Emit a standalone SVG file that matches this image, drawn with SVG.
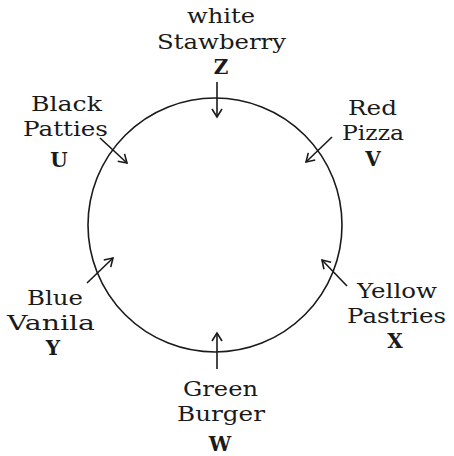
<svg xmlns="http://www.w3.org/2000/svg" width="454" height="456" viewBox="0 0 454 456">
<style>
text{font-family:"DejaVu Serif","Liberation Serif",serif;font-size:21px;fill:#1a1a1a;text-anchor:middle}
text.k{font-weight:bold;font-size:20px}
.c{fill:none;stroke:#1a1a1a;stroke-width:1.6}
.a{fill:none;stroke:#1a1a1a;stroke-width:1.6;marker-end:url(#ah)}
</style>
<defs>
<marker id="ah" viewBox="0 0 12 12" refX="10" refY="6" markerWidth="12" markerHeight="12" markerUnits="userSpaceOnUse" orient="auto">
<path d="M2,1 L10,6 L2,11" fill="none" stroke="#1a1a1a" stroke-width="1.6"/>
</marker>
</defs>
<rect width="454" height="456" fill="#fff"/>
<circle class="c" cx="215" cy="225" r="127"/>
<g id="connectors">
<line class="a" x1="217" y1="82" x2="217" y2="117"/>
<line class="a" x1="100" y1="138" x2="127" y2="163"/>
<line class="a" x1="332" y1="137" x2="306" y2="162"/>
<line class="a" x1="87" y1="283" x2="113" y2="258"/>
<line class="a" x1="347" y1="286" x2="322" y2="260"/>
<line class="a" x1="217" y1="369" x2="217" y2="333"/>
</g>
<g id="Z"><text x="221" y="23" textLength="68" lengthAdjust="spacingAndGlyphs">white</text><text x="221.5" y="49" textLength="129" lengthAdjust="spacingAndGlyphs">Stawberry</text><text class="k" x="221" y="74">Z</text></g>
<g id="U"><text x="66.5" y="111" textLength="71" lengthAdjust="spacingAndGlyphs">Black</text><text x="65.5" y="136" textLength="85" lengthAdjust="spacingAndGlyphs">Patties</text><text class="k" x="59" y="167">U</text></g>
<g id="V"><text x="372.5" y="115" textLength="49" lengthAdjust="spacingAndGlyphs">Red</text><text x="373" y="140" textLength="62" lengthAdjust="spacingAndGlyphs">Pizza</text><text class="k" x="373" y="166">V</text></g>
<g id="Y"><text x="55" y="305" textLength="56" lengthAdjust="spacingAndGlyphs">Blue</text><text x="51" y="330" textLength="88" lengthAdjust="spacingAndGlyphs">Vanila</text><text class="k" x="53" y="355">Y</text></g>
<g id="X"><text x="397" y="298" textLength="80" lengthAdjust="spacingAndGlyphs">Yellow</text><text x="396.5" y="323" textLength="99" lengthAdjust="spacingAndGlyphs">Pastries</text><text class="k" x="395" y="348">X</text></g>
<g id="W"><text x="220.5" y="396" textLength="75" lengthAdjust="spacingAndGlyphs">Green</text><text x="221" y="421" textLength="88" lengthAdjust="spacingAndGlyphs">Burger</text><text class="k" x="220" y="451">W</text></g>
</svg>
